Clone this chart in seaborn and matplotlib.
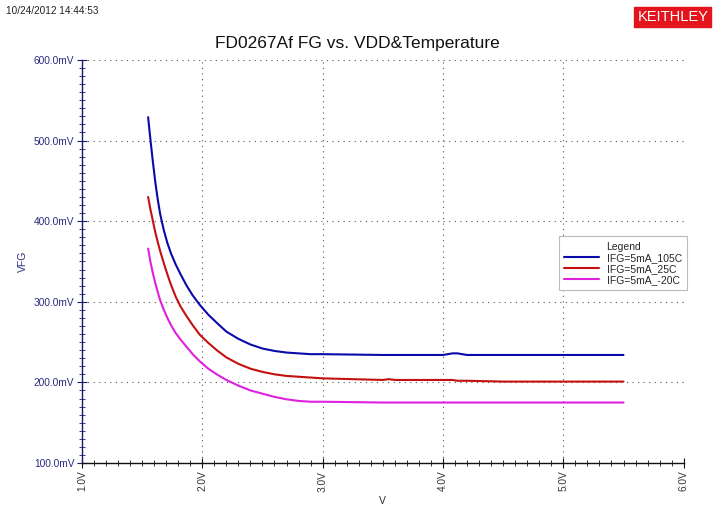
import matplotlib
matplotlib.use("Agg")
import matplotlib.pyplot as plt
import seaborn as sns
import pandas as pd
import numpy as np
from matplotlib.ticker import MultipleLocator, FuncFormatter
from matplotlib.lines import Line2D

volts = [1.55, 1.57, 1.59, 1.61, 1.63, 1.65, 1.68, 1.71, 1.74, 1.78, 1.82, 1.87,
         1.92, 1.98, 2.05, 2.12, 2.2, 2.3, 2.4, 2.5, 2.6, 2.7, 2.8, 2.9, 3.0,
         3.5, 3.55, 3.6, 4.0, 4.08, 4.12, 4.2, 4.5, 5.0, 5.5]
vfg_105c = [529, 500, 473, 448, 427, 409, 389, 373, 360, 346, 334, 320,
            308, 296, 284, 274, 263, 254, 247, 242, 239, 237, 236, 235, 235,
            234, 234, 234, 234, 236, 236, 234, 234, 234, 234]
vfg_25c = [430, 414, 400, 386, 374, 363, 348, 334, 321, 306, 294, 282,
           271, 259, 249, 240, 231, 223, 217, 213, 210, 208, 207, 206, 205,
           203, 204, 203, 203, 203, 202, 202, 201, 201, 201]
vfg_m20c = [366, 349, 335, 323, 312, 302, 290, 280, 271, 261, 253, 244,
            235, 226, 217, 210, 203, 196, 190, 186, 182, 179, 177, 176, 176,
            175, 175, 175, 175, 175, 175, 175, 175, 175, 175]
series_names = ["IFG=5mA_105C", "IFG=5mA_25C", "IFG=5mA_-20C"]
colors = ["#0a0aa8", "#c41010", "#e020e0"]

frames = []
for name, vals in zip(series_names, [vfg_105c, vfg_25c, vfg_m20c]):
    frames.append(pd.DataFrame({"V": volts, "VFG": np.array(vals) / 1000.0, "series": name}))
df = pd.concat(frames, ignore_index=True)

sns.set_style("white")
plt.rcParams['font.family'] = ['Liberation Sans', 'DejaVu Sans']

fig = plt.figure(figsize=(7.25, 5.08), dpi=100)
ax = fig.add_axes([0.113, 0.0886, 0.830, 0.7934])

sns.lineplot(data=df, x="V", y="VFG", hue="series", palette=colors,
             hue_order=series_names, ax=ax, linewidth=1.5, legend=False, sort=True)

ax.set_xlim(1.0, 6.0)
ax.set_ylim(0.1, 0.6)
ax.xaxis.set_major_locator(MultipleLocator(1.0))
ax.xaxis.set_minor_locator(MultipleLocator(0.1))
ax.yaxis.set_major_locator(MultipleLocator(0.1))
ax.yaxis.set_minor_locator(MultipleLocator(0.01))
ax.xaxis.set_major_formatter(FuncFormatter(lambda v, p: f"{v:.1f}V"))
ax.yaxis.set_major_formatter(FuncFormatter(lambda v, p: f"{v*1000:.1f}mV"))

ax.grid(True, which="major", linestyle=(0, (1, 4)), color="#555555", linewidth=0.8)
for s in ["top", "right"]:
    ax.spines[s].set_visible(False)
ax.spines["left"].set_color("#1a1a70")
ax.spines["bottom"].set_color("#111111")
ax.spines["left"].set_linewidth(1.0)
ax.spines["bottom"].set_linewidth(1.0)

ax.tick_params(axis="y", which="both", direction="inout", colors="#1a1a70",
               labelcolor="#2a2a80", labelsize=7.3, left=True, pad=2)
ax.tick_params(axis="y", which="major", length=7)
ax.tick_params(axis="y", which="minor", length=5)
ax.tick_params(axis="x", which="both", direction="inout", colors="#111111",
               labelsize=7.3, bottom=True, labelrotation=90, pad=2)
ax.tick_params(axis="x", which="major", length=7)
ax.tick_params(axis="x", which="minor", length=5)
for lab in ax.get_xticklabels():
    lab.set_color("#333333")

ax.set_xlabel("V", fontsize=7.5, color="#333333", labelpad=3)
ax.set_ylabel("VFG", fontsize=7.5, color="#2a2a80", labelpad=4)

fig.text(0.493, 0.915, "FD0267Af FG vs. VDD&Temperature", ha="center", va="center",
         fontsize=12.5, color="#111111")
fig.text(0.008, 0.978, "10/24/2012 14:44:53", ha="left", va="center",
         fontsize=7.2, color="#222222")
fig.text(0.928, 0.967, "KEITHLEY", ha="center", va="center", fontsize=10.5,
         color="white", bbox=dict(boxstyle="square,pad=0.22", facecolor="#e3141c", edgecolor="#e3141c"))

handles = [Line2D([0], [0], color=c, linewidth=1.5) for c in colors]
leg = ax.legend(handles, series_names, title="Legend", loc="upper left",
                bbox_to_anchor=(0.793, 0.562), fontsize=7.5, title_fontsize=7.5,
                frameon=True, fancybox=False, borderpad=0.5, handlelength=3.3,
                labelspacing=0.1, edgecolor="#bbbbbb", framealpha=1,
                borderaxespad=0)
leg.get_frame().set_linewidth(0.8)

fig.savefig("out.png", dpi=100, facecolor="white")
